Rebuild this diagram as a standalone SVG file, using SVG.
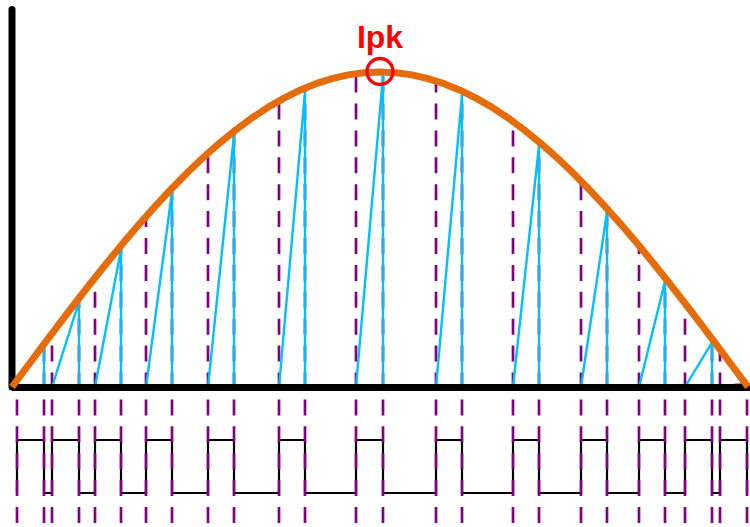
<svg xmlns="http://www.w3.org/2000/svg" width="750" height="527" viewBox="0 0 750 527">
<style>
.wave{fill:none;stroke:#000;stroke-width:2.2;stroke-linejoin:miter}
.dash{stroke:#800080;stroke-width:2.7;stroke-dasharray:16 10.9;fill:none}
.saw{fill:none;stroke:#00BFFF;stroke-width:2.4;stroke-linejoin:round}
.axis{stroke:#000;stroke-width:7;fill:none}
.env{fill:none;stroke:#E46C0A;stroke-width:7;stroke-linejoin:round}
.pk{fill:none;stroke:#FF0000;stroke-width:3.3}
.lbl{font-family:"Liberation Sans",Arial,sans-serif;font-weight:bold;font-size:32px;fill:#FF0000}
</style>
<defs>
<clipPath id="under">
<polygon points="12,387 28,365.5 44,344.1 60,322.9 76,302 92,281.5 108,261.5 124,242.1 140,223.3 156,205.4 172,188.2 188,172 204,156.8 220,142.7 236,129.7 252,117.9 268,107.3 284,98.1 300,90.2 316,83.7 332,78.6 348,74.9 364,72.7 380,72 396,72.7 412,74.9 428,78.6 444,83.7 460,90.2 476,98.1 492,107.3 508,117.9 524,129.7 540,142.7 556,156.8 572,172 588,188.2 604,205.4 620,223.3 636,242.1 652,261.5 668,281.5 684,302 700,322.9 716,344.1 732,365.5 748,387 750,387 750,527 0,527 0,387"/>
</clipPath>
</defs>
<g id="switching-wave">
<path class="wave" d="M17,493 V440 H44 V493 H52 V440 H79 V493 H95 V440 H121 V493 H146 V440 H172 V493 H208 V440 H234 V493 H279 V440 H305 V493 H356 V440 H383 V493 H436 V440 H462 V493 H513 V440 H539 V493 H581 V440 H607 V493 H639 V440 H665 V493 H685 V440 H712 V493 H720 V440 H747 V493"/>
</g>
<g id="switching-edges" clip-path="url(#under)">
<path class="dash" d="M17,22.8 V527 M44,22.8 V527 M52,22.8 V527 M79,22.8 V527 M95,22.8 V527 M121,22.8 V527 M146,22.8 V527 M172,22.8 V527 M208,22.8 V527 M234,22.8 V527 M279,22.8 V527 M305,22.8 V527 M356,22.8 V527 M383,22.8 V527 M436,22.8 V527 M462,22.8 V527 M513,22.8 V527 M539,22.8 V527 M581,22.8 V527 M607,22.8 V527 M639,22.8 V527 M665,22.8 V527 M685,22.8 V527 M712,22.8 V527 M720,22.8 V527 M747,22.8 V527"/>
</g>
<g id="inductor-current">
<path class="saw" d="M12,387 L44,347.6 L44,387 L52,387 L79,301.6 L79,387 L95,387 L121,249.2 L121,387 L146,387 L172,191.7 L172,387 L208,387 L234,134.7 L234,387 L279,387 L305,91.5 L305,387 L356,387 L383,75.5 L383,387 L436,387 L462,94.6 L462,387 L513,387 L539,145.3 L539,387 L581,387 L607,212.1 L607,387 L639,387 L665,281.2 L665,387 L685,387 L712,342.3 L712,387 L720,387 L747,383"/>
</g>
<g id="axes">
<path class="axis" d="M12,387.5 H750"/>
<path class="axis" d="M12,387 V9.5" stroke-linecap="round"/>
</g>
<g id="envelope">
<polyline class="env" points="12,387 28,365.5 44,344.1 60,322.9 76,302 92,281.5 108,261.5 124,242.1 140,223.3 156,205.4 172,188.2 188,172 204,156.8 220,142.7 236,129.7 252,117.9 268,107.3 284,98.1 300,90.2 316,83.7 332,78.6 348,74.9 364,72.7 380,72 396,72.7 412,74.9 428,78.6 444,83.7 460,90.2 476,98.1 492,107.3 508,117.9 524,129.7 540,142.7 556,156.8 572,172 588,188.2 604,205.4 620,223.3 636,242.1 652,261.5 668,281.5 684,302 700,322.9 716,344.1 732,365.5 748,387"/>
</g>
<g id="peak">
<circle class="pk" cx="380" cy="71.5" r="13"/>
<text class="lbl" x="380" y="47.5" text-anchor="middle">Ipk</text>
</g>
</svg>
